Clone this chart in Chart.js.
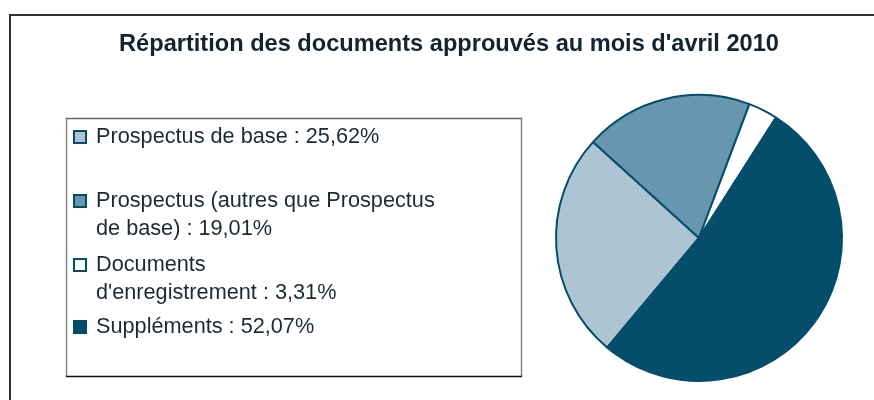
<!DOCTYPE html>
<html lang="fr">
<head>
    <meta charset="UTF-8">
    <title>Répartition des documents approuvés</title>
    <script src="https://cdn.jsdelivr.net/npm/chart.js"></script>
    <style>
        body { margin: 0; background: #fff; }
        canvas { display: block; }
    </style>
</head>
<body>
    <canvas id="myChart" width="874" height="400"></canvas>

    <script>
        // données du graphique
        var categories = ['Prospectus de base', 'Prospectus (autres que Prospectus de base)', "Documents d'enregistrement", 'Suppléments'];
        var values = [25.62, 19.01, 3.31, 52.07];
        var colors = ['#adc5d2', '#6796ae', '#ffffff', '#044e6c'];
        // coupures de ligne de la légende (comme dans l'original)
        var legendBreaks = [null, 'Prospectus (autres que Prospectus', 'Documents', null];
        var titleText = "Répartition des documents approuvés au mois d'avril 2010";

        function legendLabel(i) {
            return categories[i] + ' : ' + values[i].toFixed(2).replace('.', ',') + '%';
        }

        // cadre, titre et légende dessinés à la main
        var decor = {
            id: 'decor',
            afterDraw: function (chart) {
                var ctx = chart.ctx;
                ctx.save();

                // cadre extérieur
                ctx.strokeStyle = '#333';
                ctx.lineWidth = 2;
                ctx.strokeRect(10, 15, 880, 400);

                // titre
                ctx.fillStyle = '#13242e';
                ctx.font = 'bold 23.6px "Liberation Sans", Arial, sans-serif';
                ctx.textAlign = 'center';
                ctx.textBaseline = 'alphabetic';
                ctx.fillText(titleText, 449, 51);

                // boîte de légende
                ctx.lineWidth = 1.5;
                ctx.strokeStyle = '#888';
                ctx.beginPath();
                ctx.moveTo(66.5, 118); ctx.lineTo(66.5, 377);
                ctx.moveTo(521.5, 118); ctx.lineTo(521.5, 377);
                ctx.stroke();
                ctx.strokeStyle = '#666';
                ctx.beginPath();
                ctx.moveTo(66, 118.5); ctx.lineTo(522, 118.5);
                ctx.stroke();
                ctx.strokeStyle = '#111';
                ctx.beginPath();
                ctx.moveTo(66, 376.5); ctx.lineTo(522, 376.5);
                ctx.stroke();

                // éléments de légende
                var baselines = [143, 207, 271, 333];
                var lineH = 28;
                ctx.font = '21.7px "Liberation Sans", Arial, sans-serif';
                ctx.textAlign = 'left';
                for (var i = 0; i < categories.length; i++) {
                    var y = baselines[i];
                    ctx.fillStyle = colors[i];
                    ctx.fillRect(74, y - 12, 12, 12);
                    ctx.strokeStyle = '#044e6c';
                    ctx.lineWidth = 2;
                    ctx.strokeRect(74, y - 12, 12, 12);

                    var txt = legendLabel(i);
                    var lines = [txt];
                    if (legendBreaks[i]) {
                        lines = [legendBreaks[i], txt.slice(legendBreaks[i].length + 1)];
                    }
                    ctx.fillStyle = '#1b2a33';
                    for (var j = 0; j < lines.length; j++) {
                        ctx.fillText(lines[j], 96, y + j * lineH);
                    }
                }
                ctx.restore();
            }
        };

        var ctx = document.getElementById('myChart').getContext('2d');
        var myChart = new Chart(ctx, {
            type: 'pie',
            data: {
                labels: categories,
                datasets: [{
                    data: values,
                    backgroundColor: colors,
                    borderColor: '#044e6c',
                    borderWidth: 2
                }]
            },
            options: {
                responsive: false,
                animation: false,
                rotation: -140,
                radius: 143,
                layout: {
                    padding: { left: 555, right: 31, top: 94, bottom: 18 }
                },
                plugins: {
                    legend: { display: false },
                    title: { display: false },
                    tooltip: { enabled: false }
                }
            },
            plugins: [decor]
        });
    </script>
</body>
</html>
